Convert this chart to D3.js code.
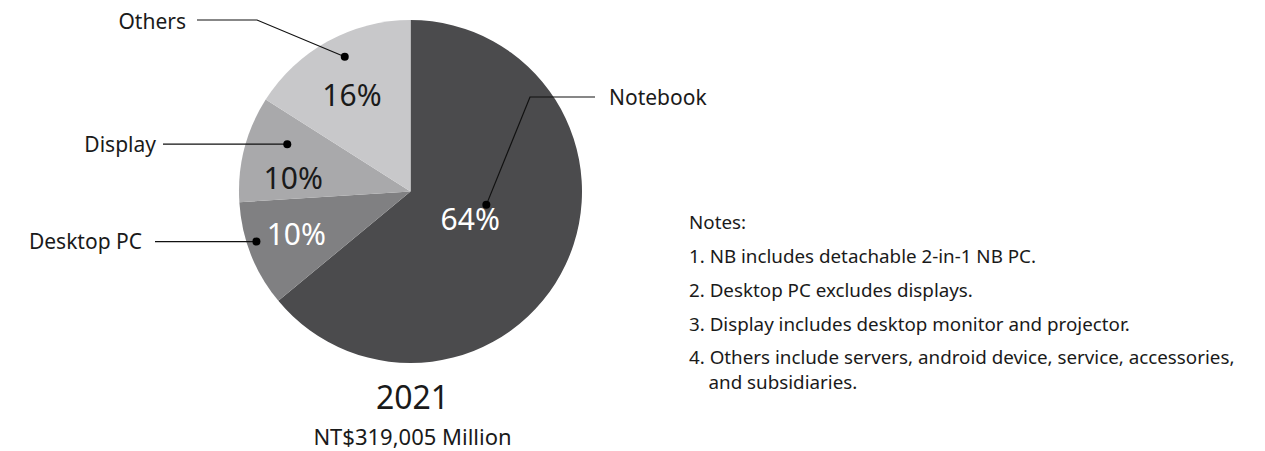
<!DOCTYPE html>
<html>
<head>
<meta charset="utf-8">
<script src="https://cdn.jsdelivr.net/npm/d3@7"></script>
<style>
  body { margin: 0; background: #fff; }
  svg { display: block; font-family: "Noto Sans", "Open Sans", sans-serif; }
</style>
</head>
<body>
<div id="chart"></div>
<script>
var categories = ["Notebook", "Desktop PC", "Display", "Others"];
var shares = [64, 10, 10, 16];
var shareLabels = ["64%", "10%", "10%", "16%"];
var year = "2021";
var total = "NT$319,005 Million";
var notes = [
    "Notes:",
    "1. NB includes detachable 2-in-1 NB PC.",
    "2. Desktop PC excludes displays.",
    "3. Display includes desktop monitor and projector.",
    "4. Others include servers, android device, service, accessories,",
    "    and subsidiaries."
];

var width = 1265, height = 451;
var cx = 410.5, cy = 191.5, radius = 171.5;

var color = d3.scaleOrdinal()
    .domain(categories)
    .range(["#4b4b4d", "#808082", "#a9a9ab", "#c8c8ca"]);
var textColor = ["#ffffff", "#ffffff", "#1a1a1a", "#1a1a1a"];

// label placement (radius, angle nudge in degrees) and callout dots
var labelPlace = [
    {r: 66, da: 0},
    {r: 122, da: 1},
    {r: 118, da: -8},
    {r: 113, da: -2.4}
];
var dotPlace = [
    {r: 77, a: 100},
    {r: 162, a: 252},
    {r: 132, a: 291},
    {r: 150, a: 334}
];

var svg = d3.select("#chart").append("svg")
    .attr("width", width)
    .attr("height", height);

var g = svg.append("g")
    .attr("transform", "translate(" + cx + "," + cy + ")");

var pie = d3.pie().sort(null).value(function (d) { return d; });
var arcs = pie(shares);
var arc = d3.arc().innerRadius(0).outerRadius(radius);

g.selectAll("path.slice")
    .data(arcs)
    .enter().append("path")
    .attr("class", "slice")
    .attr("d", arc)
    .style("fill", function (d, i) { return color(categories[i]); });

g.selectAll("text.pct")
    .data(arcs)
    .enter().append("text")
    .attr("class", "pct")
    .attr("transform", function (d, i) {
        var a = (d.startAngle + d.endAngle) / 2 + labelPlace[i].da * Math.PI / 180;
        var p = d3.pointRadial(a, labelPlace[i].r);
        return "translate(" + p[0] + "," + p[1] + ")";
    })
    .attr("dy", "0.36em")
    .style("text-anchor", "middle")
    .style("font-size", "30px")
    .style("fill", function (d, i) { return textColor[i]; })
    .text(function (d, i) { return shareLabels[i]; });

// callouts
function dotXY(i) {
    var p = d3.pointRadial(dotPlace[i].a * Math.PI / 180, dotPlace[i].r);
    return [cx + p[0], cy + p[1]];
}

var callouts = [
    {i: 0, pts: function (d) { return [d, [530, 97], [595, 97]]; }, tx: 609, ty: 97, anchor: "start"},
    {i: 1, pts: function (d) { return [d, [155, d[1]]]; }, tx: 142, ty: 241, anchor: "end"},
    {i: 2, pts: function (d) { return [d, [163, d[1]]]; }, tx: 156, ty: 144, anchor: "end"},
    {i: 3, pts: function (d) { return [d, [257, 20], [197, 20]]; }, tx: 186, ty: 21, anchor: "end"}
];

var line = d3.line();

callouts.forEach(function (c) {
    var d = dotXY(c.i);
    svg.append("path")
        .attr("d", line(c.pts(d)))
        .style("fill", "none")
        .style("stroke", "#111")
        .style("stroke-width", 1.2);
    svg.append("circle")
        .attr("cx", d[0])
        .attr("cy", d[1])
        .attr("r", 4)
        .style("fill", "#000");
    svg.append("text")
        .attr("x", c.tx)
        .attr("y", c.ty)
        .attr("dy", "0.36em")
        .style("text-anchor", c.anchor)
        .style("font-size", "21px")
        .style("fill", "#1a1a1a")
        .text(categories[c.i]);
});

svg.append("text")
    .attr("x", cx + 2)
    .attr("y", 409)
    .style("text-anchor", "middle")
    .style("font-size", "32px")
    .style("fill", "#1a1a1a")
    .text(year);

svg.append("text")
    .attr("x", cx + 2)
    .attr("y", 445)
    .style("text-anchor", "middle")
    .style("font-size", "22px")
    .style("fill", "#1a1a1a")
    .text(total);

var noteY = [229, 263, 297, 331, 364, 389];
svg.selectAll("text.note")
    .data(notes)
    .enter().append("text")
    .attr("class", "note")
    .attr("x", 689)
    .attr("y", function (d, i) { return noteY[i]; })
    .style("font-size", "18.8px")
    .style("fill", "#1a1a1a")
    .style("white-space", "pre")
    .attr("xml:space", "preserve")
    .text(function (d) { return d; });
</script>
</body>
</html>
